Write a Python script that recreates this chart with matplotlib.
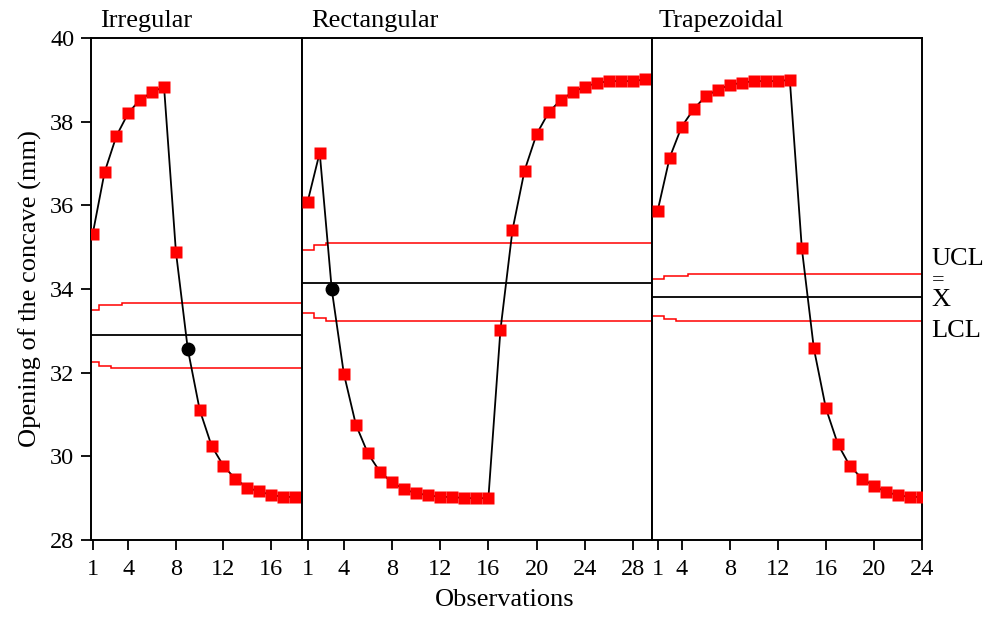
import numpy as np
import matplotlib
matplotlib.use("Agg")
import matplotlib.pyplot as plt

plt.rcParams['font.family'] = ['Liberation Serif', 'DejaVu Serif']

# etapas del proceso
etapas = ['Irregular', 'Rectangular', 'Trapezoidal']

# valores observados por etapa (mm)
irregular = [35.31, 36.79, 37.66, 38.21, 38.53, 38.70, 38.84, 34.89, 32.56,
             31.11, 30.25, 29.77, 29.46, 29.25, 29.16, 29.08, 29.03, 29.03]
rectangular = [36.09, 37.26, 33.99, 31.98, 30.76, 30.07, 29.63, 29.38, 29.21,
               29.12, 29.07, 29.03, 29.03, 29.00, 29.00, 29.00, 33.02, 35.41,
               36.83, 37.70, 38.22, 38.52, 38.70, 38.84, 38.92, 38.97, 38.97,
               38.97, 39.01]
trapezoidal = [35.87, 37.14, 37.88, 38.30, 38.61, 38.76, 38.88, 38.93, 38.97,
               38.97, 38.97, 39.00, 34.97, 32.58, 31.15, 30.29, 29.77, 29.47,
               29.29, 29.15, 29.07, 29.03, 29.03]

# observacion marcada con circulo negro (punto de cambio)
cambio = {'Irregular': 9, 'Rectangular': 3}

# linea central y limites de control (los primeros puntos son distintos)
centro = [32.89, 34.15, 33.80]
ucl_ini = [[33.50, 33.62, 33.62], [34.93, 35.05], [34.23, 34.31, 34.31]]
ucl_fin = [33.67, 35.11, 34.36]
lcl_ini = [[32.25, 32.16], [33.42, 33.30], [33.36, 33.29]]
lcl_fin = [32.10, 33.24, 33.23]

# ticks del eje x
ticks_pos = [[1, 4, 8, 12, 16], [1, 4, 8, 12, 16, 20, 24, 28],
             [1, 3, 7, 11, 15, 19, 23]]
ticks_lab = [['1', '4', '8', '12', '16'],
             ['1', '4', '8', '12', '16', '20', '24', '28'],
             ['1', '4', '8', '12', '16', '20', '24']]
limites_x = [(0.86, 18.6), (0.53, 29.58), (0.53, 23.0)]

datos = [irregular, rectangular, trapezoidal]

fig = plt.figure(figsize=(9.88, 6.18), dpi=100)
gs = fig.add_gridspec(1, 3, width_ratios=[211, 350, 270], wspace=0,
                      left=0.0921, right=0.9332, bottom=0.1262, top=0.9385)
axes = [fig.add_subplot(gs[0, i]) for i in range(3)]

for i, ax in enumerate(axes):
    y = np.array(datos[i])
    n = len(y)
    x = np.arange(1, n + 1)
    x0, x1 = limites_x[i]

    # limites de control escalonados
    ucl = list(ucl_ini[i]) + [ucl_fin[i]] * (n - len(ucl_ini[i]))
    lcl = list(lcl_ini[i]) + [lcl_fin[i]] * (n - len(lcl_ini[i]))
    bordes = np.concatenate([[x0], x[:-1] + 0.5, [x1]])
    ax.stairs(ucl, bordes, baseline=None, color='red', lw=1.1, zorder=1)
    ax.stairs(lcl, bordes, baseline=None, color='red', lw=1.1, zorder=1)
    ax.axhline(centro[i], color='black', lw=1.3, zorder=1)

    ax.plot(x, y, color='black', lw=1.3, zorder=2)
    marca = np.ones(n, dtype=bool)
    if etapas[i] in cambio:
        k = cambio[etapas[i]] - 1
        marca[k] = False
        ax.plot(x[k], y[k], 'o', color='black', ms=9, zorder=3)
    ax.plot(x[marca], y[marca], 's', color='red', ms=8.6, mec='none', zorder=3)

    ax.set_xlim(x0, x1)
    ax.set_ylim(28, 40)
    ax.set_xticks(ticks_pos[i])
    ax.set_xticklabels(ticks_lab[i])
    ax.tick_params(axis='both', direction='out', length=7, width=1.3,
                   labelsize=17.5, pad=5)
    ax.tick_params(axis='x', pad=7)
    for s in ax.spines.values():
        s.set_linewidth(1.4)
    ax.text(0.045 if i == 0 else 0.025, 1.012, etapas[i], transform=ax.transAxes,
            fontsize=19, ha='left', va='bottom')
    if i > 0:
        ax.tick_params(axis='y', left=False, labelleft=False)
    else:
        ax.set_yticks([28, 30, 32, 34, 36, 38, 40])
        ax.set_ylabel('Opening of the concave (mm)', fontsize=19, labelpad=6)

# etiquetas de las lineas de control a la derecha
ax3 = axes[2]
trans = ax3.get_yaxis_transform()
ax3.text(1.035, 34.72, 'UCL', transform=trans, fontsize=19, va='center', ha='left')
ax3.text(1.036, 34.20, '=', transform=trans, fontsize=16, va='center', ha='left')
ax3.text(1.035, 33.74, 'X', transform=trans, fontsize=19, va='center', ha='left')
ax3.text(1.035, 33.00, 'LCL', transform=trans, fontsize=19, va='center', ha='left')

fig.text(0.511, 0.012, 'Observations', fontsize=19, ha='center', va='bottom')

fig.savefig('out.png', dpi=100)
